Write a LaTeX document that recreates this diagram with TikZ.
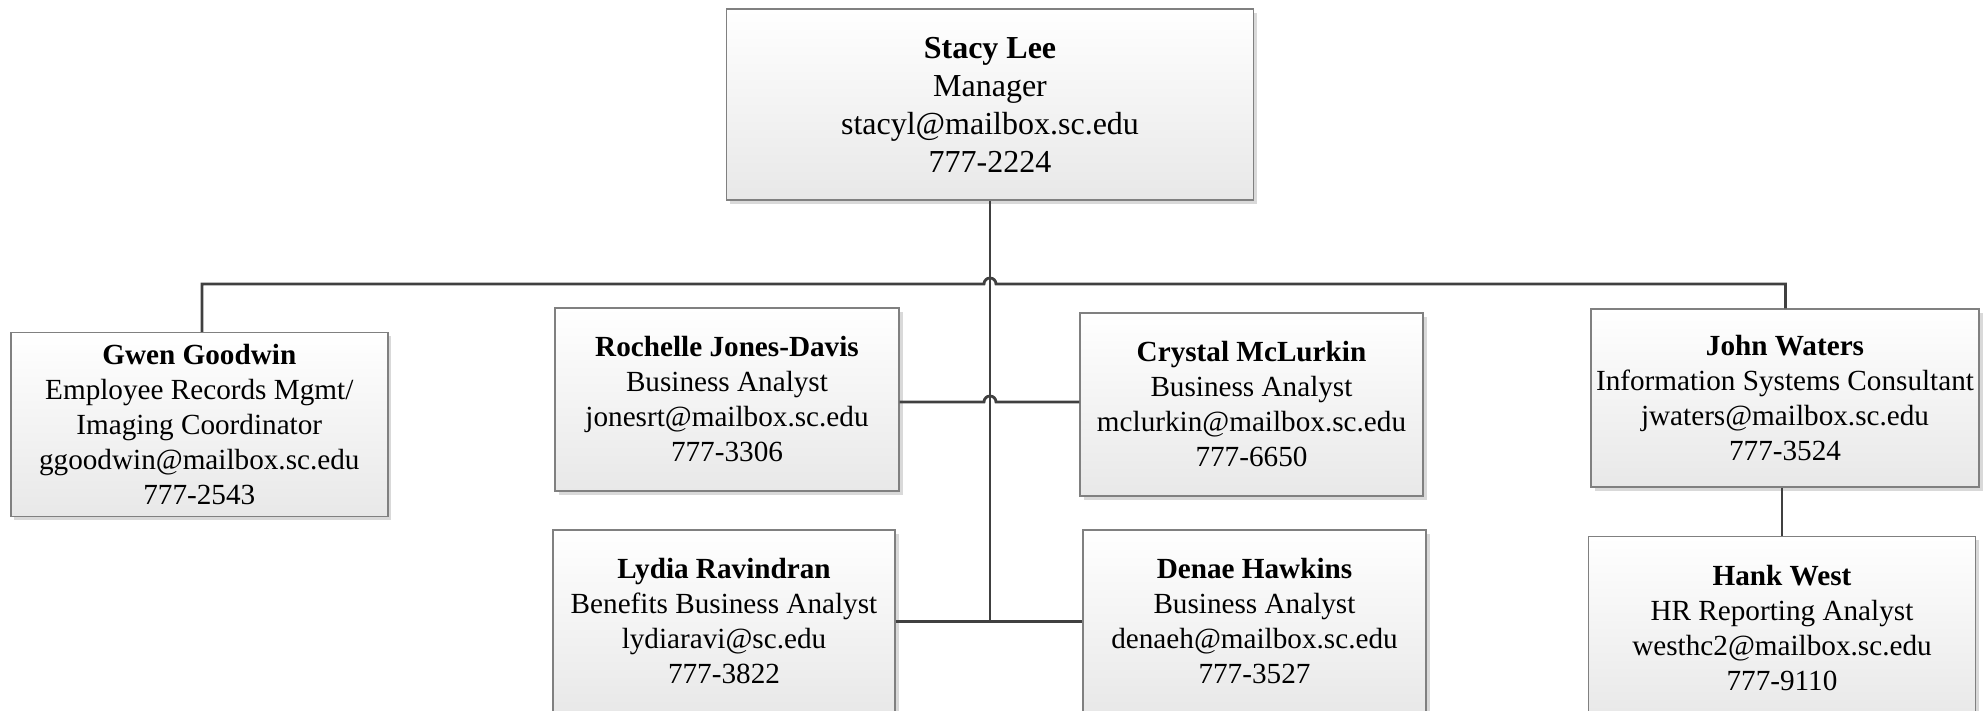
\documentclass[tikz,border=0pt]{standalone}
\usepackage{fontspec}
\setmainfont{Liberation Serif}
\usetikzlibrary{shadows,calc}
\definecolor{conncol}{HTML}{404040}
\definecolor{boxline}{HTML}{808080}
\begin{document}
\begin{tikzpicture}[x=0.5pt,y=-0.5pt,
  orgbox/.style={draw=boxline, line width=0.7pt, top color=white, bottom color=black!9,
    align=center, inner sep=0pt,
    general shadow={fill=black!15, shadow xshift=1.8pt, shadow yshift=-1.8pt},
    font=\fontsize{14.6}{17.5}\selectfont},
  topbox/.style={orgbox, font=\fontsize{16}{19}\selectfont},
  conn/.style={draw=conncol, line width=1.4pt}]
\useasboundingbox (0,0) rectangle (1988,711);

\node[topbox, minimum width=263.75pt, minimum height=95.5pt] (stacy) at (990,104.5)
  {\textbf{Stacy Lee}\\Manager\\stacyl@mailbox.sc.edu\\777-2224};
\node[orgbox, minimum width=188.5pt, minimum height=92pt] (gwen) at (199.3,424.5)
  {\textbf{Gwen Goodwin}\\Employee Records Mgmt/\\Imaging Coordinator\\ggoodwin@mailbox.sc.edu\\777-2543};
\node[orgbox, minimum width=172pt, minimum height=91.5pt] (rochelle) at (727,399.5)
  {\textbf{Rochelle Jones-Davis}\\Business Analyst\\jonesrt@mailbox.sc.edu\\777-3306};
\node[orgbox, minimum width=171.5pt, minimum height=91.5pt] (crystal) at (1251.5,404.5)
  {\textbf{Crystal McLurkin}\\Business Analyst\\mclurkin@mailbox.sc.edu\\777-6650};
\node[orgbox, minimum width=171pt, minimum height=91.5pt] (lydia) at (724,621.5)
  {\textbf{Lydia Ravindran}\\Benefits Business Analyst\\lydiaravi@sc.edu\\777-3822};
\node[orgbox, minimum width=171.5pt, minimum height=91.5pt] (denae) at (1254.5,621.5)
  {\textbf{Denae Hawkins}\\Business Analyst\\denaeh@mailbox.sc.edu\\777-3527};
\node[orgbox, minimum width=194pt, minimum height=89pt] (john) at (1785,398)
  {\textbf{John Waters}\\Information Systems Consultant\\jwaters@mailbox.sc.edu\\777-3524};
\node[orgbox, minimum width=193.5pt, minimum height=91.5pt] (hank) at (1782,628)
  {\textbf{Hank West}\\HR Reporting Analyst\\westhc2@mailbox.sc.edu\\777-9110};

\coordinate (bl) at (202,284);
\coordinate (br) at (1785.5,284);
\coordinate (h1) at (990,284);
\coordinate (h2) at (990,402);

% trunk
\draw[conn] (stacy.south) -- (stacy.south |- lydia.east);
% bus with hop
\draw[conn] (gwen.north -| bl) -- (bl) -- ($(h1)+(-6,0)$)
  arc[start angle=180, end angle=0, radius=3pt] -- (br) -- (john.north -| br);
% Rochelle - Crystal with hop
\draw[conn] (rochelle.east |- h2) -- ($(h2)+(-6,0)$)
  arc[start angle=180, end angle=0, radius=3pt] -- (crystal.west |- h2);
% Lydia - Denae
\draw[conn] (lydia.east) -- (denae.west);
% John - Hank
\draw[conn] (john.south -| hank.north) -- (hank.north);
\end{tikzpicture}
\end{document}
